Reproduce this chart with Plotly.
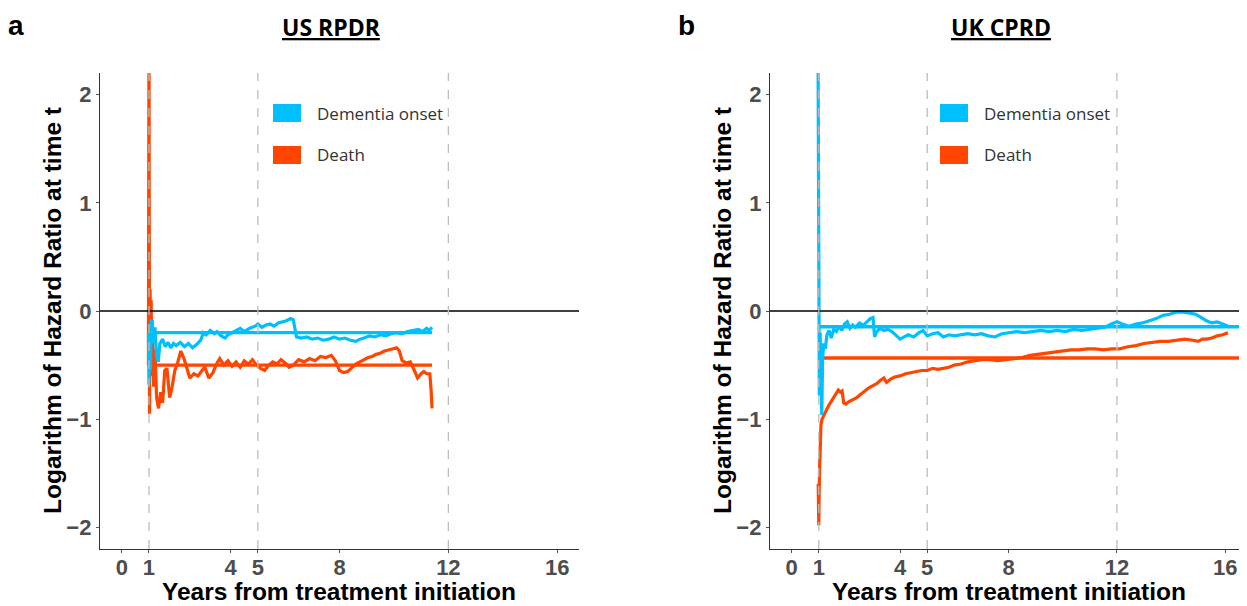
import plotly.graph_objects as go
from plotly.subplots import make_subplots

# page is 1247x606, the html body adds an 8px margin, so the figure is 8px smaller
PAGE_W, PAGE_H = 1247, 606
OFF = 8
W, H = PAGE_W - OFF, PAGE_H - OFF

# --- data (years from treatment initiation, log hazard ratio) ---

# US RPDR - dementia onset
us_dem_t = [0.98, 1.0, 1.02, 1.05, 1.08, 1.12, 1.17, 1.22, 1.28, 1.34,
            1.4, 1.5, 1.6, 1.7, 1.8, 1.9, 2.0, 2.15, 2.3, 2.45,
            2.6, 2.75, 2.9, 3.0, 3.1, 3.25, 3.4, 3.5, 3.65, 3.8,
            3.9, 4.05, 4.2, 4.35, 4.5, 4.7, 4.9, 5.0, 5.15, 5.3,
            5.45, 5.6, 5.75, 5.9, 6.05, 6.2, 6.3, 6.36, 6.42, 6.6,
            6.8, 7.0, 7.2, 7.4, 7.6, 7.8, 8.0, 8.2, 8.4, 8.6,
            8.75, 8.9, 9.1, 9.3, 9.5, 9.7, 9.9, 10.1, 10.3, 10.5,
            10.7, 10.9, 11.05, 11.2, 11.3, 11.4]
us_dem_lhr = [-0.20, -0.68, -0.30, -0.55, -0.10, -0.08, -0.30, -0.15, -0.42, -0.47,
              -0.30, -0.26, -0.33, -0.29, -0.34, -0.30, -0.32, -0.29, -0.33, -0.30,
              -0.34, -0.31, -0.27, -0.20, -0.22, -0.18, -0.21, -0.19, -0.23, -0.25,
              -0.22, -0.20, -0.18, -0.16, -0.19, -0.16, -0.14, -0.12, -0.15, -0.13,
              -0.12, -0.14, -0.11, -0.10, -0.09, -0.07, -0.08, -0.16, -0.24, -0.25,
              -0.24, -0.26, -0.25, -0.27, -0.26, -0.24, -0.26, -0.25, -0.27, -0.28,
              -0.26, -0.25, -0.23, -0.24, -0.22, -0.23, -0.21, -0.20, -0.21, -0.19,
              -0.18, -0.17, -0.19, -0.16, -0.18, -0.15]

# US RPDR - death
us_death_t = [0.98, 1.0, 1.02, 1.04, 1.06, 1.08, 1.1, 1.13, 1.17, 1.22,
              1.28, 1.35, 1.43, 1.5, 1.58, 1.66, 1.76, 1.85, 1.95, 2.05,
              2.17, 2.3, 2.4, 2.5, 2.65, 2.8, 2.95, 3.05, 3.2, 3.35,
              3.5, 3.6, 3.75, 3.9, 4.05, 4.2, 4.35, 4.5, 4.65, 4.8,
              4.95, 5.1, 5.25, 5.4, 5.55, 5.7, 5.85, 6.0, 6.15, 6.3,
              6.5, 6.7, 6.9, 7.1, 7.3, 7.5, 7.7, 7.85, 8.0, 8.15,
              8.3, 8.45, 8.6, 8.75, 8.9, 9.05, 9.2, 9.35, 9.5, 9.65,
              9.8, 9.95, 10.1, 10.2, 10.3, 10.45, 10.6, 10.75, 10.87, 11.0,
              11.1, 11.2, 11.32, 11.37, 11.4]
us_death_lhr = [-0.50, 2.60, -0.95, 0.20, -0.30, 0.10, -0.60, -0.20, -0.70, -0.35,
                -0.80, -0.90, -0.75, -0.85, -0.55, -0.53, -0.80, -0.70, -0.55, -0.48,
                -0.37, -0.45, -0.55, -0.62, -0.58, -0.60, -0.55, -0.52, -0.62, -0.57,
                -0.48, -0.44, -0.50, -0.46, -0.51, -0.47, -0.52, -0.46, -0.49, -0.45,
                -0.50, -0.53, -0.55, -0.50, -0.47, -0.49, -0.45, -0.48, -0.52, -0.50,
                -0.45, -0.47, -0.44, -0.46, -0.42, -0.43, -0.41, -0.46, -0.55, -0.57,
                -0.56, -0.52, -0.49, -0.47, -0.45, -0.43, -0.42, -0.40, -0.39, -0.37,
                -0.36, -0.35, -0.34, -0.37, -0.46, -0.48, -0.47, -0.55, -0.62, -0.58,
                -0.56, -0.58, -0.58, -0.75, -0.90]

# UK CPRD - dementia onset
uk_dem_t = [0.97, 0.99, 1.0, 1.01, 1.02, 1.03, 1.05, 1.08, 1.11, 1.14,
            1.18, 1.24, 1.3, 1.38, 1.46, 1.55, 1.65, 1.75, 1.85, 1.95,
            2.05, 2.15, 2.25, 2.35, 2.5, 2.65, 2.8, 2.9, 3.0, 3.06,
            3.12, 3.25, 3.4, 3.55, 3.7, 3.85, 4.0, 4.15, 4.3, 4.5,
            4.7, 4.85, 5.0, 5.2, 5.4, 5.6, 5.8, 6.0, 6.25, 6.5,
            6.75, 7.0, 7.25, 7.5, 7.75, 8.0, 8.3, 8.6, 8.9, 9.2,
            9.5, 9.8, 10.1, 10.4, 10.7, 11.0, 11.3, 11.55, 11.8, 12.0,
            12.2, 12.45, 12.7, 12.95, 13.2, 13.45, 13.7, 13.95, 14.2, 14.45,
            14.7, 14.9, 15.1, 15.3, 15.5, 15.7, 15.9, 16.1]
uk_dem_lhr = [2.60, 1.33, 0.50, 0.00, -0.78, -0.40, -0.20, -0.60, -0.96, -0.45,
              -0.30, -0.35, -0.22, -0.18, -0.25, -0.17, -0.19, -0.14, -0.18, -0.12,
              -0.10, -0.16, -0.13, -0.15, -0.11, -0.13, -0.09, -0.07, -0.06, -0.24,
              -0.20, -0.16, -0.18, -0.17, -0.19, -0.23, -0.26, -0.24, -0.22, -0.24,
              -0.20, -0.18, -0.23, -0.21, -0.20, -0.24, -0.22, -0.23, -0.22, -0.21,
              -0.22, -0.21, -0.23, -0.24, -0.21, -0.20, -0.19, -0.20, -0.19, -0.18,
              -0.19, -0.18, -0.19, -0.17, -0.18, -0.17, -0.16, -0.15, -0.12, -0.10,
              -0.12, -0.14, -0.12, -0.11, -0.09, -0.07, -0.04, -0.03, -0.01, -0.01,
              -0.02, -0.03, -0.06, -0.09, -0.11, -0.10, -0.12, -0.14]

# UK CPRD - death
uk_death_t = [0.98, 1.0, 1.01, 1.03, 1.05, 1.08, 1.12, 1.18, 1.25, 1.35,
              1.45, 1.55, 1.65, 1.72, 1.8, 1.86, 1.92, 2.0, 2.1, 2.25,
              2.4, 2.55, 2.7, 2.85, 3.0, 3.15, 3.28, 3.4, 3.5, 3.65,
              3.8, 4.0, 4.2, 4.4, 4.6, 4.8, 5.0, 5.2, 5.4, 5.6,
              5.8, 6.0, 6.25, 6.5, 6.75, 7.0, 7.3, 7.6, 7.9, 8.2,
              8.5, 8.8, 9.1, 9.4, 9.7, 10.0, 10.3, 10.6, 10.9, 11.2,
              11.5, 11.8, 12.1, 12.4, 12.7, 13.0, 13.3, 13.6, 13.9, 14.2,
              14.5, 14.8, 15.0, 15.15, 15.3, 15.5, 15.7, 15.9, 16.1]
uk_death_lhr = [-1.60, -1.98, -1.75, -1.45, -1.20, -1.05, -1.00, -0.97, -0.92, -0.88,
                -0.84, -0.80, -0.76, -0.73, -0.75, -0.74, -0.85, -0.86, -0.84, -0.82,
                -0.80, -0.77, -0.74, -0.71, -0.69, -0.67, -0.64, -0.62, -0.66, -0.63,
                -0.61, -0.60, -0.58, -0.57, -0.56, -0.55, -0.55, -0.53, -0.54, -0.53,
                -0.52, -0.50, -0.49, -0.47, -0.46, -0.45, -0.45, -0.46, -0.45, -0.44,
                -0.43, -0.41, -0.40, -0.39, -0.38, -0.37, -0.36, -0.36, -0.35, -0.35,
                -0.36, -0.35, -0.35, -0.33, -0.32, -0.30, -0.29, -0.28, -0.28, -0.27,
                -0.26, -0.27, -0.28, -0.26, -0.26, -0.25, -0.23, -0.22, -0.20]

# constant (average) log hazard ratios and the span they are drawn over
us_avg_dem, us_avg_death, us_avg_span = -0.20, -0.50, [1.0, 11.4]
uk_avg_dem, uk_avg_death, uk_avg_span = -0.145, -0.435, [1.0, 17.0]

ref_years = [1, 5, 12]
x_ticks = [0, 1, 4, 5, 8, 12, 16]
y_ticks = [-2, -1, 0, 1, 2]

BLUE = '#00BFFF'
RED = '#FF4500'


# page pixel -> paper fraction
def px(x):
    return (x - OFF) / W


def py(y):
    return 1 - (y - OFF) / H


fig = make_subplots(rows=1, cols=2)

panels = [
    (1, us_dem_t, us_dem_lhr, us_death_t, us_death_lhr, us_avg_dem, us_avg_death, us_avg_span),
    (2, uk_dem_t, uk_dem_lhr, uk_death_t, uk_death_lhr, uk_avg_dem, uk_avg_death, uk_avg_span),
]
for col, dt, dv, mt, mv, adem, adeath, span in panels:
    fig.add_trace(go.Scatter(x=span, y=[adem, adem], mode='lines',
                             line=dict(color=BLUE, width=3.4), showlegend=False), row=1, col=col)
    fig.add_trace(go.Scatter(x=span, y=[adeath, adeath], mode='lines',
                             line=dict(color=RED, width=3.4), showlegend=False), row=1, col=col)
    fig.add_trace(go.Scatter(x=mt, y=mv, mode='lines', name='Death',
                             line=dict(color=RED, width=3.2), showlegend=False), row=1, col=col)
    fig.add_trace(go.Scatter(x=dt, y=dv, mode='lines', name='Dementia onset',
                             line=dict(color=BLUE, width=3.2), showlegend=False), row=1, col=col)
    fig.add_hline(y=0, line=dict(color='black', width=1.3), row=1, col=col)
    for xv in ref_years:
        fig.add_vline(x=xv, line=dict(color='#BDBDBD', width=1.3, dash='dash'), row=1, col=col)

tick_font = dict(family='Liberation Sans', size=22, color='#4D4D4D', weight='bold')
axis_common = dict(showgrid=False, zeroline=False, showline=True, linecolor='#333333',
                   linewidth=1.3, ticks='outside', ticklen=3, tickwidth=1.2,
                   tickcolor='#555555', tickfont=tick_font)

fig.update_xaxes(range=[-0.8, 16.8], tickvals=x_ticks, ticklabelstandoff=-5, **axis_common)
fig.update_yaxes(range=[-2.2, 2.2], tickvals=y_ticks, **axis_common)
fig.update_layout(
    xaxis=dict(domain=[px(100), px(579)]),
    xaxis2=dict(domain=[px(770), 1.0]),
    yaxis=dict(domain=[py(549), py(73)]),
    yaxis2=dict(domain=[py(549), py(73)]),
)

title_font = dict(family='Liberation Sans', size=24.5, color='black', weight='bold')
ann = []
for x0, letter, title in [(0, 'a', 'US RPDR'), (670, 'b', 'UK CPRD')]:
    ann.append(dict(x=px(x0 + 16), y=1.0, yanchor='top', text=letter,
                    font=dict(family='Liberation Sans', size=28, color='black', weight='bold')))
    ann.append(dict(x=px(x0 + 331), y=py(27), text='<u>' + title + '</u>',
                    font=dict(family='Open Sans', size=23, color='black', weight='bold')))
    ann.append(dict(x=px(x0 + 52), y=py(311), textangle=-90,
                    text='Logarithm of Hazard Ratio at time t', font=title_font))
    ann.append(dict(x=px(x0 + 339), y=0.0, yanchor='bottom', borderpad=0,
                    text='Years from treatment initiation', font=title_font))
for x0 in [0, 667]:
    # legend keys
    for yc, label in [(113, 'Dementia onset'), (154, 'Death')]:
        ann.append(dict(x=px(x0 + 315), y=py(yc), xanchor='left', text=label,
                        font=dict(family='Open Sans', size=17, color='#333333')))
for a in ann:
    a.setdefault('xanchor', 'center')
    a.setdefault('yanchor', 'middle')
    a.update(xref='paper', yref='paper', showarrow=False)

shapes = []
for x0 in [0, 667]:
    for (y0, y1), colr in [((104, 122), BLUE), ((146, 164), RED)]:
        shapes.append(dict(type='rect', xref='paper', yref='paper',
                           x0=px(x0 + 273), x1=px(x0 + 301), y0=py(y1), y1=py(y0),
                           fillcolor=colr, line=dict(width=0)))

fig.update_layout(
    width=W, height=H,
    margin=dict(l=0, r=0, t=0, b=0),
    paper_bgcolor='white', plot_bgcolor='white',
    showlegend=False,
    annotations=ann,
)
for s in shapes:
    fig.add_shape(**s)

fig.write_html('out.html')
